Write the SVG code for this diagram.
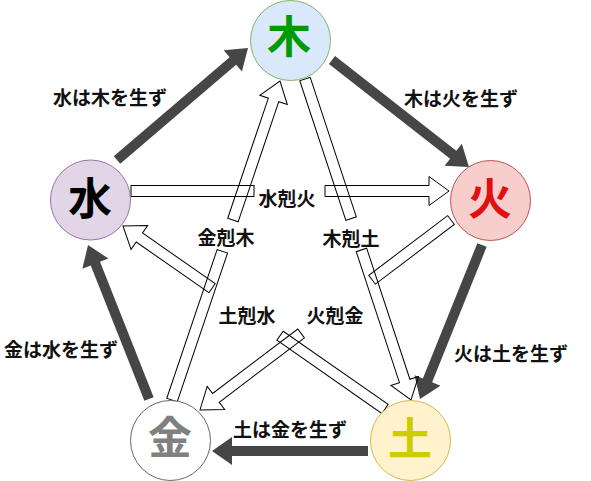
<svg xmlns="http://www.w3.org/2000/svg" width="591" height="481" viewBox="0 0 591 481">
<style>
.dark{fill:#464646;stroke:none}
.hollow{fill:none;stroke:#000;stroke-width:1}
.lbl{font-family:"Noto Sans CJK JP","Noto Sans",sans-serif;font-size:19px;font-weight:bold;fill:#111;text-anchor:middle}
.big{font-family:"Noto Sans CJK JP","Noto Sans",sans-serif;font-size:44px;font-weight:bold;text-anchor:middle}
.node{stroke-width:1}
</style>
<rect width="591" height="481" fill="#fff"/>
<g id="connectors">
  <g id="sheng">
    <polygon class="dark" transform="translate(117,160) rotate(-40.53)" points="0,-5 152.4,-5 152.4,-14 172.4,0 152.4,14 152.4,5 0,5"/>
    <polygon class="dark" transform="translate(332,60) rotate(38.0)" points="0,-5 153.8,-5 153.8,-14 173.8,0 153.8,14 153.8,5 0,5"/>
    <polygon class="dark" transform="translate(482,245) rotate(111.93)" points="0,-5 146,-5 146,-14 166,0 146,14 146,5 0,5"/>
    <polygon class="dark" transform="translate(368,451) rotate(180)" points="0,-5 136,-5 136,-14 156,0 136,14 136,5 0,5"/>
    <polygon class="dark" transform="translate(149,399) rotate(-111.61)" points="0,-5 145.6,-5 145.6,-14 165.6,0 145.6,14 145.6,5 0,5"/>
  </g>
  <g id="ke">
    <g transform="translate(131,191)">
      <rect class="hollow" x="0" y="-5.5" width="123" height="11"/>
      <polygon class="hollow" points="194,-5.5 298,-5.5 298,-14.5 318,0 298,14.5 298,5.5 194,5.5"/>
    </g>
    <g transform="translate(172,400) rotate(-71.30)">
      <rect class="hollow" x="0" y="-5.5" width="157" height="11"/>
      <polygon class="hollow" points="190,-5.5 316.8,-5.5 316.8,-14.5 336.8,0 316.8,14.5 316.8,5.5 190,5.5"/>
    </g>
    <g transform="translate(305,79) rotate(71.73)">
      <rect class="hollow" x="0" y="-5.5" width="147" height="11"/>
      <polygon class="hollow" points="180,-5.5 318,-5.5 318,-14.5 338,0 318,14.5 318,5.5 180,5.5"/>
    </g>
    <g transform="translate(385,409) rotate(-145.07)">
      <rect class="hollow" x="0" y="-5.5" width="128" height="11"/>
      <polygon class="hollow" points="211,-5.5 299.6,-5.5 299.6,-14.5 319.6,0 299.6,14.5 299.6,5.5 211,5.5"/>
    </g>
    <g transform="translate(451,220) rotate(142.88)">
      <rect class="hollow" x="0" y="-5.5" width="99" height="11"/>
      <polygon class="hollow" points="188,-5.5 294.8,-5.5 294.8,-14.5 314.8,0 294.8,14.5 294.8,5.5 188,5.5"/>
    </g>
  </g>
  <g id="labels">
    <text class="lbl" x="110" y="105">水は木を生ず</text>
    <text class="lbl" x="461" y="106">木は火を生ず</text>
    <text class="lbl" x="511" y="361">火は土を生ず</text>
    <text class="lbl" x="290" y="437">土は金を生ず</text>
    <text class="lbl" x="61" y="357">金は水を生ず</text>
    <text class="lbl" x="287" y="206">水剋火</text>
    <text class="lbl" x="226" y="245">金剋木</text>
    <text class="lbl" x="351" y="246">木剋土</text>
    <text class="lbl" x="247" y="323">土剋水</text>
    <text class="lbl" x="335" y="323">火剋金</text>
  </g>
</g>
<g id="node-wood">
  <circle class="node" cx="290.5" cy="40.5" r="40" fill="#dae8fc" stroke="#82b366"/>
  <text class="big" x="289" y="53" fill="#009900">木</text>
</g>
<g id="node-water">
  <circle class="node" cx="90.5" cy="200" r="40" fill="#e1d5e7" stroke="#9673a6"/>
  <text class="big" x="90" y="215" fill="#000">水</text>
</g>
<g id="node-fire">
  <circle class="node" cx="490.5" cy="200.5" r="40" fill="#f8cecc" stroke="#b85450"/>
  <text class="big" x="490" y="215" fill="#e01010">火</text>
</g>
<g id="node-earth">
  <circle class="node" cx="410.5" cy="440.5" r="40" fill="#fff2cc" stroke="#d6b656"/>
  <text class="big" x="410" y="455" fill="#cccc00">土</text>
</g>
<g id="node-metal">
  <circle class="node" cx="170.5" cy="440.5" r="40" fill="#ffffff" stroke="#666666"/>
  <text class="big" x="170" y="454" fill="#808080">金</text>
</g>
</svg>
